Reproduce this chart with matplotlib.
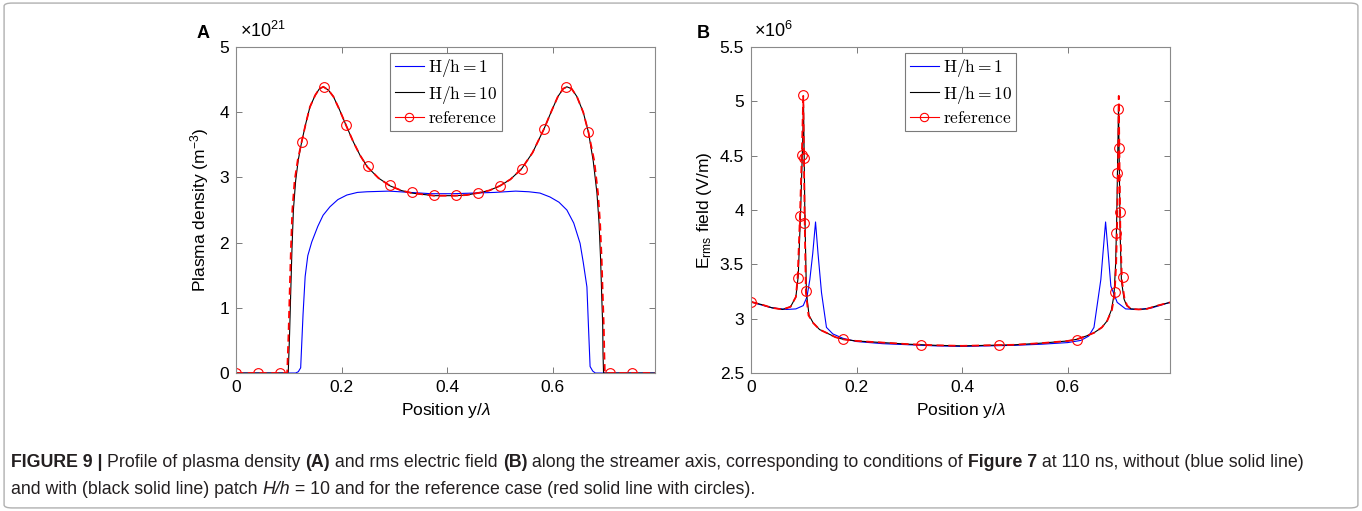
import matplotlib
matplotlib.use('Agg')
import matplotlib.pyplot as plt
from matplotlib.lines import Line2D
from matplotlib.patches import FancyBboxPatch
from matplotlib.font_manager import FontProperties

plt.rcParams['font.family'] = ['Liberation Sans', 'DejaVu Sans']
plt.rcParams['mathtext.fontset'] = 'custom'
plt.rcParams['mathtext.rm'] = 'Liberation Sans'
plt.rcParams['mathtext.it'] = 'Liberation Sans:italic'
plt.rcParams['mathtext.bf'] = 'Liberation Sans:bold'

# ---- panel A: plasma density (units of 1e21 m^-3) ----
a_h1_x = [0, 0.113, 0.118, 0.1225, 0.127, 0.131, 0.136, 0.1435, 0.155, 0.165, 0.178, 0.193,
          0.21, 0.23, 0.248, 0.29, 0.33, 0.37, 0.41, 0.45, 0.49, 0.53, 0.555, 0.576, 0.595,
          0.612, 0.627, 0.64, 0.652, 0.658, 0.665, 0.668, 0.671, 0.676, 0.681, 0.794]
a_h1_y = [0, 0, 0.02, 0.08, 0.9, 1.48, 1.8, 2.01, 2.25, 2.42, 2.55, 2.66,
          2.73, 2.77, 2.78, 2.79, 2.77, 2.75, 2.75, 2.76, 2.77, 2.79, 2.78, 2.76, 2.70,
          2.62, 2.50, 2.30, 1.99, 1.7, 1.32, 0.7, 0.10, 0.03, 0, 0]

a_h10_x = [0, 0.098, 0.099, 0.1015, 0.1036, 0.106, 0.1087, 0.113, 0.118, 0.1245, 0.132, 0.140,
           0.150, 0.158, 0.1655, 0.175, 0.1845, 0.196, 0.2085, 0.222, 0.235, 0.249, 0.27,
           0.292, 0.313, 0.333, 0.354, 0.375, 0.395, 0.416, 0.437, 0.458, 0.48, 0.500, 0.52,
           0.541, 0.562, 0.584, 0.598, 0.61, 0.62, 0.627, 0.636, 0.646, 0.658, 0.668, 0.677,
           0.684, 0.688, 0.691, 0.693, 0.695, 0.6955, 0.6965, 0.794]
a_h10_y = [0, 0, 0.02, 0.6, 1.22, 1.9, 2.5, 2.95, 3.27, 3.55, 3.82, 4.08,
           4.26, 4.36, 4.39, 4.34, 4.24, 4.04, 3.80, 3.55, 3.34, 3.16, 2.99,
           2.87, 2.80, 2.76, 2.74, 2.72, 2.72, 2.72, 2.73, 2.76, 2.80, 2.87, 2.97,
           3.13, 3.38, 3.75, 4.02, 4.24, 4.36, 4.39, 4.36, 4.24, 4.0, 3.69, 3.25,
           2.76, 2.3, 1.73, 1.2, 0.71, 0.3, 0, 0]

a_ref_x = [0, 0.096, 0.097, 0.0995, 0.1016, 0.104, 0.1067, 0.111, 0.117, 0.1245, 0.132, 0.140,
           0.150, 0.158, 0.1655, 0.175, 0.1845, 0.196, 0.2085, 0.222, 0.235, 0.249, 0.27,
           0.292, 0.313, 0.333, 0.354, 0.375, 0.395, 0.416, 0.437, 0.458, 0.48, 0.500, 0.52,
           0.541, 0.562, 0.584, 0.598, 0.61, 0.62, 0.627, 0.636, 0.646, 0.658, 0.668, 0.679,
           0.686, 0.690, 0.693, 0.695, 0.697, 0.698, 0.699, 0.794]
a_ref_y = a_h10_y

a_mark_x = [0, 0.0417, 0.0833, 0.125, 0.1667, 0.2083, 0.25, 0.2917, 0.3333, 0.375, 0.4167,
            0.4583, 0.5, 0.5417, 0.5833, 0.625, 0.6667, 0.7083, 0.75]
a_mark_y = [0, 0, 0, 3.55, 4.39, 3.81, 3.17, 2.88, 2.77, 2.73, 2.73, 2.76, 2.87, 3.13,
            3.75, 4.39, 3.69, 0, 0]

# ---- panel B: rms electric field (units of 1e6 V/m) ----
b_h1_x = [0, 0.017, 0.04, 0.0675, 0.085, 0.0989, 0.106, 0.1115, 0.117, 0.1223, 0.127, 0.1336,
          0.143, 0.155, 0.174, 0.2, 0.25, 0.3, 0.35, 0.4, 0.45, 0.5, 0.55, 0.6, 0.625, 0.64,
          0.65, 0.663, 0.667, 0.672, 0.677, 0.682, 0.694, 0.71, 0.735, 0.76, 0.794]
b_h1_y = [3.155, 3.13, 3.10, 3.085, 3.09, 3.12, 3.2, 3.36, 3.6, 3.89, 3.6, 3.24,
          2.92, 2.86, 2.82, 2.79, 2.77, 2.76, 2.75, 2.745, 2.75, 2.755, 2.765, 2.78, 2.80, 2.84,
          2.92, 3.36, 3.6, 3.89, 3.6, 3.30, 3.15, 3.09, 3.085, 3.10, 3.15]

b_h10_x = [0, 0.02, 0.04, 0.06, 0.075, 0.085, 0.0895, 0.094, 0.0977, 0.0996, 0.101, 0.102,
           0.105, 0.11, 0.118, 0.13, 0.143, 0.16, 0.175, 0.2, 0.25, 0.3, 0.35, 0.4, 0.45, 0.5,
           0.55, 0.6, 0.617, 0.635, 0.65, 0.665, 0.675, 0.683, 0.688, 0.691, 0.693, 0.695,
           0.6965, 0.698, 0.6995, 0.702, 0.707, 0.712, 0.72, 0.735, 0.75, 0.77, 0.794]
b_h10_y = [3.155, 3.13, 3.10, 3.085, 3.11, 3.2, 3.39, 3.98, 4.59, 4.97, 4.4, 3.98,
           3.24, 3.03, 2.96, 2.9, 2.87, 2.83, 2.81, 2.795, 2.78, 2.765, 2.755, 2.75, 2.755, 2.76,
           2.775, 2.795, 2.81, 2.84, 2.87, 2.92, 2.98, 3.08, 3.22, 3.5, 3.9, 4.5,
           4.95, 4.4, 3.8, 3.35, 3.18, 3.12, 3.09, 3.085, 3.09, 3.12, 3.15]

b_ref_x = [0, 0.02, 0.04, 0.06, 0.075, 0.085, 0.0885, 0.093, 0.0967, 0.099, 0.1005, 0.1015,
           0.104, 0.109, 0.118, 0.13, 0.143, 0.16, 0.175, 0.2, 0.25, 0.3, 0.35, 0.4, 0.45, 0.5,
           0.55, 0.6, 0.617, 0.635, 0.65, 0.665, 0.675, 0.684, 0.689, 0.692, 0.694, 0.696,
           0.697, 0.6985, 0.700, 0.703, 0.708, 0.713, 0.72, 0.735, 0.75, 0.77, 0.794]
b_ref_y = [3.155, 3.13, 3.10, 3.085, 3.11, 3.2, 3.39, 3.98, 4.59, 5.05, 4.4, 3.98,
           3.24, 3.03, 2.96, 2.9, 2.87, 2.83, 2.81, 2.795, 2.78, 2.765, 2.755, 2.75, 2.755, 2.76,
           2.775, 2.795, 2.81, 2.84, 2.87, 2.92, 2.98, 3.08, 3.22, 3.5, 3.9, 4.5,
           5.05, 4.4, 3.8, 3.35, 3.18, 3.12, 3.09, 3.085, 3.09, 3.12, 3.15]

b_mark_x = [0, 0.0882, 0.0933, 0.0964, 0.099, 0.0996, 0.1002, 0.104, 0.1746, 0.322, 0.470,
            0.617, 0.689, 0.692, 0.694, 0.696, 0.697, 0.699, 0.705]
b_mark_y = [3.157, 3.375, 3.943, 4.502, 5.055, 4.48, 3.88, 3.259, 2.813, 2.755, 2.755,
            2.807, 3.25, 3.79, 4.345, 4.926, 4.573, 3.98, 3.388]

legend_labels = [r'$\mathrm{H/h} = 1$', r'$\mathrm{H/h} = 10$', r'$\mathrm{reference}$']

fig = plt.figure(figsize=(13.62, 5.11), dpi=100)

# outer frame of the figure page
fig.patches.append(FancyBboxPatch((0.003, 0.006), 0.994, 0.988,
                                  boxstyle='round,pad=0,rounding_size=0.006',
                                  transform=fig.transFigure, fill=False,
                                  edgecolor='#b0b0b0', linewidth=1.0))

axA = fig.add_axes([0.1733, 0.270, 0.3076, 0.638])
axB = fig.add_axes([0.5514, 0.270, 0.3076, 0.638])

leg_prop = FontProperties(family='DejaVu Serif', size=12.5, math_fontfamily='cm')


def style(ax, ylim, yticks, yticklabels):
    ax.set_xlim(0, 0.794)
    ax.set_ylim(*ylim)
    ax.set_xticks([0, 0.2, 0.4, 0.6])
    ax.set_xticklabels(['0', '0.2', '0.4', '0.6'])
    ax.set_yticks(yticks)
    ax.set_yticklabels(yticklabels)
    ax.tick_params(direction='in', top=True, right=True, length=4, width=0.7,
                   color='#7a7a7a', labelsize=12.5, pad=5)
    for s in ax.spines.values():
        s.set_color('#8a8a8a')
        s.set_linewidth(0.8)
    ax.set_xlabel(r'Position y/$\lambda$', fontsize=12.5, labelpad=4)


def draw(ax, h1x, h1y, h10x, h10y, rx, ry, mx, my):
    ax.plot(h1x, h1y, color='#0000ff', lw=0.8)
    ax.plot(h10x, h10y, color='black', lw=0.8)
    ax.plot(rx, ry, color='red', lw=1.3, ls=(0, (4, 2.5)))
    ax.plot(mx, my, 'o', ms=7, mfc='none', mec='red', mew=0.8)
    handles = [Line2D([], [], color='#0000ff', lw=0.8),
               Line2D([], [], color='black', lw=0.8),
               Line2D([], [], color='red', lw=0.8, marker='o', ms=6, mfc='none', mew=0.8)]
    leg = ax.legend(handles, legend_labels, loc='upper center', bbox_to_anchor=(0.501, 0.982),
                    prop=leg_prop, handlelength=1.7, handletextpad=0.2, borderpad=0.25,
                    labelspacing=0.25, borderaxespad=0, fancybox=False, framealpha=1)
    leg.get_frame().set_edgecolor('#7a7a7a')
    leg.get_frame().set_linewidth(0.8)


draw(axA, a_h1_x, a_h1_y, a_h10_x, a_h10_y, a_ref_x, a_ref_y, a_mark_x, a_mark_y)
draw(axB, b_h1_x, b_h1_y, b_h10_x, b_h10_y, b_ref_x, b_ref_y, b_mark_x, b_mark_y)

style(axA, (0, 5), [0, 1, 2, 3, 4, 5], ['0', '1', '2', '3', '4', '5'])
style(axB, (2.5, 5.5), [2.5, 3, 3.5, 4, 4.5, 5, 5.5],
      ['2.5', '3', '3.5', '4', '4.5', '5', '5.5'])
axA.set_ylabel(r'Plasma density (m$^{\mathregular{-3}}$)', fontsize=12.5, labelpad=6)
axB.set_ylabel(r'E$_{\mathregular{rms}}$ field (V/m)', fontsize=12.5, labelpad=4)

fig.text(240 / 1362, 1 - 31 / 511, r'$\times$10$^{\mathregular{21}}$', fontsize=13, va='center')
fig.text(754 / 1362, 1 - 31 / 511, r'$\times$10$^{\mathregular{6}}$', fontsize=13, va='center')
fig.text(203 / 1362, 1 - 33 / 511, 'A', fontsize=13, fontweight='bold', ha='center', va='center')
fig.text(703 / 1362, 1 - 33 / 511, 'B', fontsize=13, fontweight='bold', ha='center', va='center')

# caption built from fragments with mixed styles
cap_family = ['Liberation Sans Narrow', 'Liberation Sans', 'DejaVu Sans']
line1 = [('FIGURE 9 | ', 'bold', 'normal'), ('Profile of plasma density ', 'normal', 'normal'),
         ('(A)', 'bold', 'normal'), (' and rms electric field ', 'normal', 'normal'),
         ('(B)', 'bold', 'normal'),
         (' along the streamer axis, corresponding to conditions of ', 'normal', 'normal'),
         ('Figure 7', 'bold', 'normal'),
         (' at 110 ns, without (blue solid line)', 'normal', 'normal')]
line2 = [('and with (black solid line) patch ', 'normal', 'normal'), ('H/h', 'normal', 'italic'),
         (' = 10 and for the reference case (red solid line with circles).', 'normal', 'normal')]

renderer = fig.canvas.get_renderer()
for frags, ypix in [(line1, 467), (line2, 494)]:
    xpix = 11
    for txt, wt, st in frags:
        t = fig.text(xpix / 1362, 1 - ypix / 511, txt, fontsize=12.8, family=cap_family,
                     fontweight=wt, fontstyle=st, va='baseline', color='#231f20')
        bb = t.get_window_extent(renderer=renderer)
        xpix += bb.width

fig.savefig('out.png', dpi=100)
